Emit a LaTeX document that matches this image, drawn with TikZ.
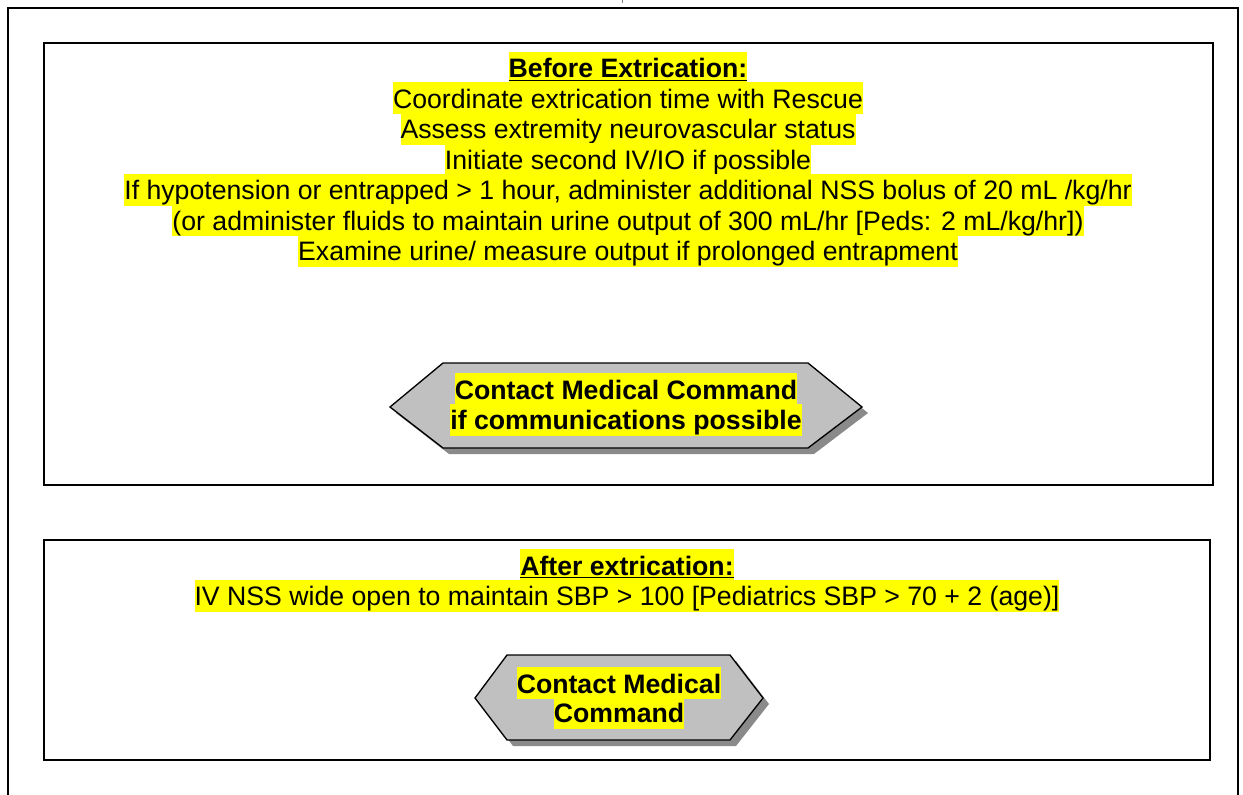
\documentclass[tikz,border=0pt]{standalone}
\usepackage{fontspec}
\setmainfont{Liberation Sans}
\definecolor{hlyellow}{HTML}{FFFF00}
\definecolor{hexfill}{HTML}{C0C0C0}
\definecolor{hexshadow}{HTML}{8A8A8A}
\tikzset{
  frameline/.style={draw=black, line width=1.5pt},
  boxline/.style={draw=black, line width=1.4pt},
  hl/.style={fill=hlyellow, inner sep=0pt, text height=19.5pt, text depth=4.5pt, anchor=base,
    font=\fontsize{20}{24}\selectfont},
  hlb/.style={hl, font=\fontsize{20}{24}\selectfont\bfseries},
  hexshape/.style={fill=hexfill, draw=black, line width=1pt, line join=miter},
  hexshade/.style={fill=hexshadow, draw=none},
}
\begin{document}
\begin{tikzpicture}[x=0.75pt,y=-0.75pt]
\useasboundingbox (0,0) rectangle (1243,795);
% outer frame (open at bottom)
\draw[frameline] (8,795) -- (8,8) -- (1238,8) -- (1238,795);
\draw[gray, line width=0.4pt] (622,0) -- (622,3);
% box 1
\draw[boxline] (44,43) rectangle (1213,485);
\node[hlb] (h1) at (628,78) {\underline{Before Extrication:}};
\node[hl] (l1) at (628,108.5) {Coordinate extrication time with Rescue};
\node[hl] (l2) at (628,139) {Assess extremity neurovascular status};
\node[hl] (l3) at (628,169.5) {Initiate second IV/IO if possible};
\node[hl] (l4) at (628,200) {If hypotension or entrapped > 1 hour, administer additional NSS bolus of 20 mL /kg/hr};
\node[hl] (l5) at (628,230.5) {(or administer fluids to maintain urine output of 300 mL/hr [Peds: 2 mL/kg/hr])};
\node[hl] (l6) at (628,261) {Examine urine/ measure output if prolonged entrapment};
% hexagon 1
\fill[hexshade] ([shift={(6,6)}]390,407) -- ++(53,-44) -- ++(365,0) -- ++(54,44) -- ++(-54,41) -- ++(-365,0) -- cycle;
\draw[hexshape] (390,407) -- (443,363) -- (808,363) -- (862,407) -- (808,448) -- (443,448) -- cycle;
\node[hlb] (c1a) at (626,399) {Contact Medical Command};
\node[hlb] (c1b) at (626,429.5) {if communications possible};
% box 2
\draw[boxline] (44,540) rectangle (1210,760);
\node[hlb] (h2) at (627,575) {\underline{After extrication:}};
\node[hl] (m1) at (627,605.5) {IV NSS wide open to maintain SBP > 100 [Pediatrics SBP > 70 + 2 (age)]};
% hexagon 2
\fill[hexshade] ([shift={(6,6)}]475,698) -- ++(32,-43) -- ++(223,0) -- ++(33,43) -- ++(-33,42) -- ++(-223,0) -- cycle;
\draw[hexshape] (475,698) -- (507,655) -- (730,655) -- (763,698) -- (730,740) -- (507,740) -- cycle;
\node[hlb] (c2a) at (619,693) {Contact Medical};
\node[hlb] (c2b) at (619,722.5) {Command};
\end{tikzpicture}
\end{document}
